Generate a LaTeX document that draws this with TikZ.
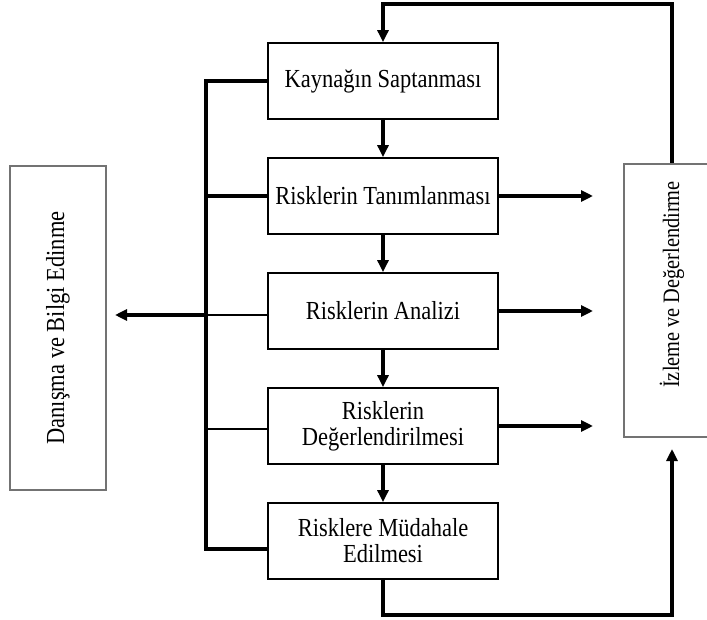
\documentclass[tikz,border=0pt]{standalone}
\usepackage{fontspec}
\setmainfont[FakeStretch=0.865]{Liberation Serif}
\usetikzlibrary{arrows.meta}
\begin{document}
\begin{tikzpicture}[x=1pt,y=-1pt,
  stepbox/.style={draw=black, line width=1.8pt, minimum width=230pt, minimum height=76pt, align=center, inner sep=0pt, fill=white, font=\fontsize{26}{26}\selectfont},
  sidebox/.style={draw=black!55, line width=2.2pt},
  sidetext/.style={rotate=90, inner sep=0pt},
  flow/.style={line width=3.4pt, line join=miter, -{Triangle[length=12pt,width=11pt]}},
  bus/.style={line width=3.4pt, line join=miter},
  thinbus/.style={line width=1.6pt},
]
\useasboundingbox (0,0) rectangle (707,620);
% main steps
\node[stepbox] (b1) at (383,81) {Kaynağın Saptanması};
\node[stepbox] (b2) at (383,196) {Risklerin Tanımlanması};
\node[stepbox] (b3) at (383,311) {Risklerin Analizi};
\node[stepbox] (b4) at (383,426) {Risklerin\\Değerlendirilmesi};
\node[stepbox] (b5) at (383,541) {Risklere Müdahale\\Edilmesi};
% side boxes
\node[sidebox, minimum width=96pt, minimum height=324pt] (L) at (58,328) {};
\node[sidetext, font=\fontsize{26}{26}\selectfont] (Ltext) at (L.center) {Danışma ve Bilgi Edinme};
\node[sidebox, minimum width=96pt, minimum height=273pt] (R) at (672,300.5) {};
\node[sidetext, font=\fontsize{23.5}{24}\selectfont] (Rtext) at (672,284.5) {İzleme ve Değerlendirme};
% coordinates
\coordinate (top) at (383,4);
\coordinate (bot) at (383,615);
\coordinate (rin) at (672,449);
\coordinate (rx) at (593,0);
\coordinate (bt) at (206,81);
\coordinate (bb) at (206,549);
\coordinate (j2) at (206,196);
\coordinate (j3) at (206,315);
\coordinate (j4) at (206,429);
\coordinate (lin) at (115,315);
% flow down
\draw[flow] (R.north) |- (top) -- (b1.north);
\draw[flow] (b1) -- (b2);
\draw[flow] (b2) -- (b3);
\draw[flow] (b3) -- (b4);
\draw[flow] (b4) -- (b5);
\draw[flow] (b5.south) -- (bot) -| (rin);
% to monitoring
\draw[flow] (b2.east) -- (b2.east -| rx);
\draw[flow] (b3.east) -- (b3.east -| rx);
\draw[flow] (b4.east) -- (b4.east -| rx);
% consultation bus
\draw[bus] (b1.west) -- (bt) -- (bb) -- (bb -| b5.west);
\draw[bus] (j2) -- (j2 -| b2.west);
\draw[thinbus] (j3) -- (j3 -| b3.west);
\draw[thinbus] (j4) -- (j4 -| b4.west);
\draw[flow] (j3) -- (lin);
\end{tikzpicture}
\end{document}
